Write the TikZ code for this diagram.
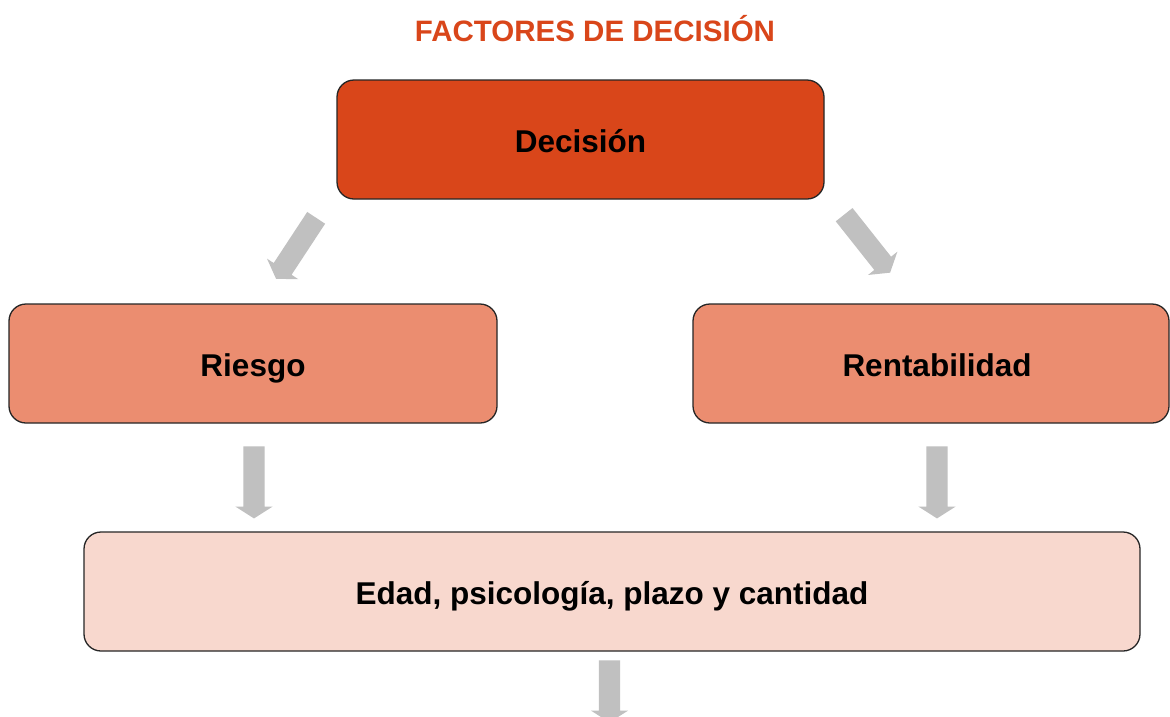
\documentclass[tikz,border=0pt]{standalone}
\usepackage{fontspec}
\setmainfont{Liberation Sans}
\usetikzlibrary{shapes.arrows}
\definecolor{dark}{RGB}{217,70,26}
\definecolor{mid}{RGB}{235,141,112}
\definecolor{light}{RGB}{248,216,206}
\definecolor{arrowgray}{RGB}{192,192,192}
\tikzset{
  box/.style={draw=black!85, line width=1.3pt, rounded corners=17pt, inner sep=0pt,
    text height=31.6pt, text depth=6pt,
    font=\fontsize{31.5}{36}\selectfont\bfseries, text=black},
  blockarrow/.style={single arrow, fill=arrowgray, draw=none, inner xsep=0pt, inner ysep=10.5pt,
    single arrow head extend=8pt, single arrow tip angle=115},
}
\begin{document}
\begin{tikzpicture}[x=1pt,y=1pt]
\clip (0,0) rectangle (1170,-716);
\fill[white] (0,0) rectangle (1170,-716);
\node[font=\fontsize{29.5}{34}\selectfont\bfseries, text=dark] (title) at (595,-29) {FACTORES DE DECISIÓN};
\node[box, fill=dark, minimum width=487pt, minimum height=119pt] (dec) at (580.5,-139.5) {Decisión};
\node[box, fill=mid, minimum width=488pt, minimum height=119pt] (ries) at (253,-363.5) {Riesgo};
\node[box, fill=mid, minimum width=476pt, minimum height=119pt] (rent) at (931,-363.5) {\hspace*{12pt}Rentabilidad};
\node[box, fill=light, minimum width=1056pt, minimum height=119pt] (edad) at (612,-591.5) {Edad, psicología, plazo y cantidad};
\node[blockarrow, minimum height=73pt, rotate=236.7] (a1) at (298,-245.5) {};
\node[blockarrow, minimum height=74pt, rotate=-51.6] (a2) at (865,-241) {};
\node[blockarrow, minimum height=72pt, rotate=-90] (a3) at (254,-479) {};
\node[blockarrow, minimum height=72pt, rotate=-90] (a4) at (937,-479) {};
\node[blockarrow, minimum height=62pt, rotate=-90] (a5) at (609.5,-688) {};
\end{tikzpicture}
\end{document}
